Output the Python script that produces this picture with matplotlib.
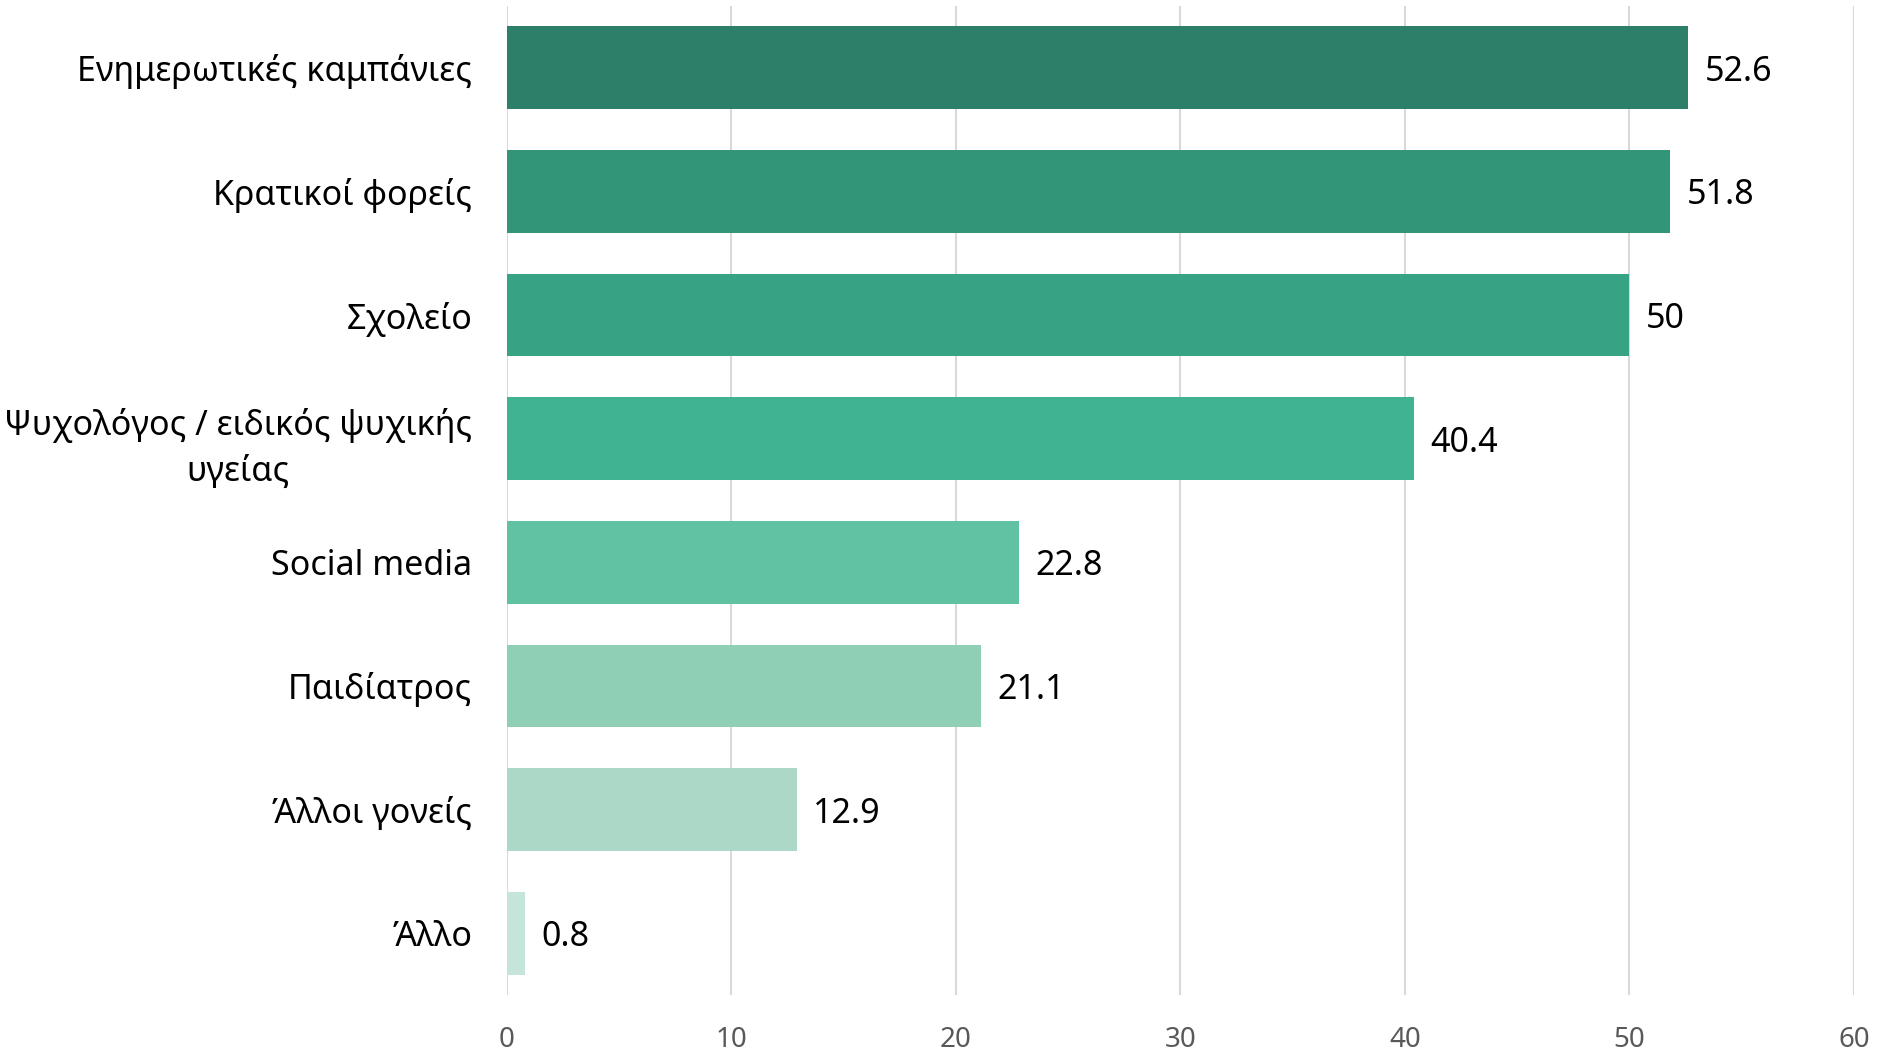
import matplotlib
matplotlib.use("Agg")
import matplotlib.pyplot as plt
import numpy as np

plt.rcParams['font.family'] = ['Noto Sans', 'DejaVu Sans']

categories = ["Ενημερωτικές καμπάνιες", "Κρατικοί φορείς", "Σχολείο",
              "Ψυχολόγος / ειδικός ψυχικής\nυγείας", "Social media",
              "Παιδίατρος", "Άλλοι γονείς", "Άλλο"]
values = [52.6, 51.8, 50, 40.4, 22.8, 21.1, 12.9, 0.8]
value_labels = ["52.6", "51.8", "50", "40.4", "22.8", "21.1", "12.9", "0.8"]
colors = ["#2D7F69", "#329578", "#38A384", "#40B392",
          "#60C1A3", "#8FCFB6", "#ACD8C7", "#C6E5DA"]
xticks = [0, 10, 20, 30, 40, 50, 60]

fig = plt.figure(figsize=(18.77, 10.51), dpi=100)
ax = fig.add_axes([0.2701, 0.0533, 0.9877 - 0.2701, 0.9943 - 0.0533])

y = np.arange(len(categories))
bars = ax.barh(y, values, height=0.67, color=colors, zorder=3)
ax.set_ylim(len(categories) - 0.5, -0.5)
ax.set_xlim(0, 60)

for b, lab in zip(bars, value_labels):
    ax.annotate(lab, (b.get_width(), b.get_y() + b.get_height() / 2),
                xytext=(12, 0), textcoords="offset points",
                va="center_baseline", ha="left", fontsize=24.5, color="black")

ax.set_yticks(y)
ax.set_yticklabels(categories, fontsize=24.5, multialignment="center",
                   linespacing=1.45)
ax.set_xticks(xticks)
ax.set_xticklabels([str(t) for t in xticks], fontsize=20, color="#595959")
ax.tick_params(axis="y", length=0, pad=25)
ax.tick_params(axis="x", length=0, pad=22)

ax.grid(axis="x", color="#D9D9D9", linewidth=1.5, zorder=0)
for s in ax.spines.values():
    s.set_visible(False)

fig.savefig("out.png", dpi=100)
